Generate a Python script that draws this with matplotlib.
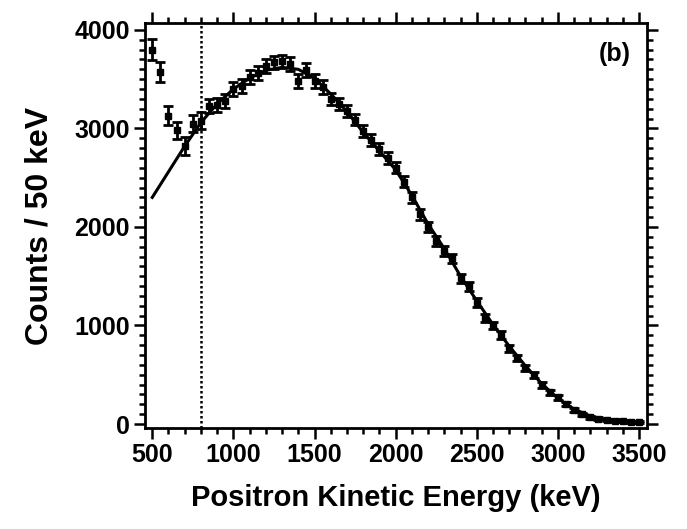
import matplotlib.pyplot as plt
from matplotlib.ticker import MultipleLocator

plt.rcParams["font.family"] = ["Liberation Sans", "DejaVu Sans"]
plt.rcParams["font.weight"] = "bold"

# --- Measured spectrum (50 keV bins) ---
energy = [500, 550, 600, 650, 700, 750, 800, 850, 900, 950,
          1000, 1050, 1100, 1150, 1200, 1250, 1300, 1350, 1400, 1450,
          1500, 1550, 1600, 1650, 1700, 1750, 1800, 1850, 1900, 1950,
          2000, 2050, 2100, 2150, 2200, 2250, 2300, 2350, 2400, 2450,
          2500, 2550, 2600, 2650, 2700, 2750, 2800, 2850, 2900, 2950,
          3000, 3050, 3100, 3150, 3200, 3250, 3300, 3350, 3400, 3450, 3500]
counts = [3800, 3570, 3130, 2980, 2820, 3050, 3080, 3230, 3240, 3280,
          3400, 3430, 3520, 3560, 3630, 3670, 3680, 3650, 3480, 3590,
          3480, 3420, 3300, 3250, 3180, 3090, 2970, 2880, 2790, 2700,
          2600, 2460, 2300, 2130, 2000, 1860, 1760, 1680, 1480, 1400,
          1230, 1080, 1000, 900, 770, 670, 570, 500, 400, 320,
          270, 200, 140, 100, 70, 55, 40, 35, 30, 25, 25]
errors = [110, 100, 100, 90, 90, 90, 90, 70, 70, 70,
          70, 70, 70, 70, 70, 70, 70, 70, 70, 70,
          70, 70, 60, 60, 60, 60, 60, 60, 60, 60,
          55, 55, 55, 55, 50, 50, 50, 50, 45, 45,
          45, 40, 40, 40, 35, 35, 30, 30, 30, 25,
          25, 20, 20, 15, 15, 15, 12, 12, 10, 10, 10]

# --- Fitted curve ---
fit_energy = [500, 600, 700, 800, 900, 1000, 1100, 1200, 1300, 1400,
              1500, 1600, 1700, 1800, 1900, 2000, 2100, 2200, 2300, 2400,
              2500, 2600, 2700, 2800, 2900, 3000, 3100, 3200, 3300, 3400, 3500]
fit_counts = [2300, 2560, 2820, 3060, 3250, 3400, 3510, 3590, 3620, 3600,
              3510, 3350, 3170, 2960, 2770, 2580, 2320, 2030, 1780, 1500,
              1250, 1010, 790, 590, 410, 260, 150, 80, 45, 30, 25]

CUT_ENERGY = 800

fig = plt.figure(figsize=(6.87, 5.29), dpi=100)
ax = fig.add_axes([0.211, 0.191, 0.731, 0.7655])

ax.plot(fit_energy, fit_counts, color="black", linewidth=2.2, zorder=3)
ax.errorbar(energy, counts, yerr=errors, fmt="s", color="black",
            markersize=5, elinewidth=2.0, capsize=3.5, capthick=2.0, zorder=4)
ax.axvline(CUT_ENERGY, color="black", linewidth=1.8, linestyle=(0, (1, 1.0)), zorder=2)

ax.set_xlim(455, 3550)
ax.set_ylim(-40, 4070)
ax.xaxis.set_major_locator(MultipleLocator(500))
ax.xaxis.set_minor_locator(MultipleLocator(100))
ax.yaxis.set_major_locator(MultipleLocator(1000))
ax.yaxis.set_minor_locator(MultipleLocator(100))

ax.tick_params(which="both", direction="out", top=True, right=True,
               labeltop=False, labelright=False, width=1.8)
ax.tick_params(which="major", length=8, labelsize=18, pad=3)
ax.tick_params(which="minor", length=4.5)
for spine in ax.spines.values():
    spine.set_linewidth(2.0)

ax.set_xlabel("Positron Kinetic Energy (keV)", fontsize=21, fontweight="bold", labelpad=12)
ax.set_ylabel("Counts / 50 keV", fontsize=23, fontweight="bold", labelpad=14)
ax.text(0.936, 0.923, "(b)", transform=ax.transAxes, ha="center", va="center",
        fontsize=18, fontweight="bold")

plt.savefig("out.png", dpi=100)
